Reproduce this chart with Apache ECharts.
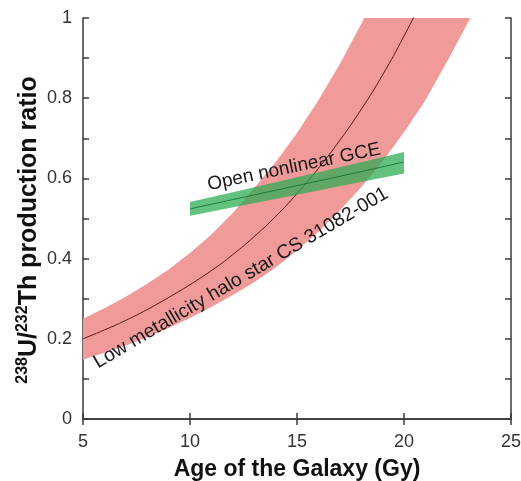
<!DOCTYPE html>
<html>
<head>
<meta charset="utf-8">
<script src="https://cdn.jsdelivr.net/npm/echarts@6/dist/echarts.min.js"></script>
<style>
html,body{margin:0;padding:0;background:#fff;}
#chart{width:521px;height:481px;}
</style>
</head>
<body>
<div id="chart"></div>
<script>
// ---- data ----
const redCenterAge = [5,6,7,8,9,10,11,12,13,14,15,16,17,18,19,20,21];
const redCenter    = [0.200,0.222,0.246,0.273,0.303,0.335,0.370,0.410,0.455,0.505,0.562,0.625,0.695,0.772,0.858,0.955,1.06];
const redUpperAge  = [5,6,7,8,9,10,11,12,13,14,15,16,17,18,18.5];
const redUpper     = [0.250,0.276,0.305,0.337,0.373,0.414,0.460,0.514,0.576,0.640,0.713,0.795,0.885,0.985,1.04];
const redLowerAge  = [5,6,7,8,9,10,11,12,13,14,15,16,17,18,19,20,21,22,23,23.3];
const redLower     = [0.148,0.165,0.183,0.204,0.227,0.252,0.279,0.309,0.341,0.378,0.420,0.467,0.520,0.578,0.642,0.715,0.795,0.890,0.990,1.02];
const greenAge     = [10,12.5,15,17.5,20];
const greenCenter  = [0.524,0.553,0.582,0.611,0.641];
const greenUpper   = [0.541,0.572,0.603,0.634,0.666];
const greenLower   = [0.507,0.533,0.559,0.586,0.612];
const xTicks = [5,10,15,20,25];
const yTicks = [0,0.2,0.4,0.6,0.8,1];
const labelOpen = 'Open nonlinear GCE';
const labelHalo = 'Low metallicity halo star CS 31082-001';

const FONT = '"Liberation Sans", Arial, Helvetica, sans-serif';
const zip = (a, b) => a.map((v, i) => [v, b[i]]);

function bandSeries(ages, up, lowAges, low, fill, z) {
  return {
    type: 'custom',
    xAxisIndex: 0, yAxisIndex: 0, z: z,
    data: [[ages[0], up[0]]],
    silent: true,
    renderItem: function (params, api) {
      const pts = [];
      ages.forEach((a, i) => pts.push(api.coord([a, up[i]])));
      for (let i = lowAges.length - 1; i >= 0; i--) pts.push(api.coord([lowAges[i], low[i]]));
      const cs = params.coordSys;
      return {
        type: 'group',
        clipPath: { type: 'rect', shape: { x: cs.x, y: cs.y, width: cs.width, height: cs.height } },
        children: [{ type: 'polygon', shape: { points: pts }, style: { fill: fill, stroke: null } }]
      };
    }
  };
}

const chart = echarts.init(document.getElementById('chart'), null, { renderer: 'canvas' });
const axisLineStyle = { color: '#3a3a3a', width: 1.5 };
const option = {
  animation: false,
  backgroundColor: '#fff',
  grid: { left: 83, right: 10, top: 18, bottom: 62, containLabel: false, outerBoundsMode: 'none' },
  xAxis: [{
    type: 'value', min: xTicks[0], max: xTicks[xTicks.length - 1], interval: 5,
    position: 'bottom',
    axisLine: { show: true, lineStyle: axisLineStyle },
    axisTick: { show: true, inside: true, length: 6, lineStyle: axisLineStyle },
    axisLabel: { color: '#333', fontSize: 18, fontFamily: FONT, margin: 14 },
    splitLine: { show: false },
    name: 'Age of the Galaxy (Gy)', nameLocation: 'middle', nameGap: 39,
    nameTextStyle: { color: '#111', fontSize: 23, fontWeight: 'bold', fontFamily: FONT }
  }, {
    type: 'value', min: 5, max: 25, interval: 5, position: 'top',
    axisLine: { show: true, lineStyle: axisLineStyle },
    axisTick: { show: true, inside: true, length: 6, lineStyle: axisLineStyle },
    axisLabel: { show: false }, splitLine: { show: false }
  }],
  yAxis: [{
    type: 'value', min: yTicks[0], max: yTicks[yTicks.length - 1], interval: 0.1,
    position: 'left',
    axisLine: { show: true, lineStyle: axisLineStyle },
    axisTick: { show: true, inside: true, length: 6, lineStyle: axisLineStyle },
    axisLabel: {
      color: '#333', fontSize: 18, fontFamily: FONT, margin: 11,
      formatter: v => {
        const r = Math.round(v * 10) / 10;
        return yTicks.some(t => Math.abs(t - r) < 1e-6) ? String(r) : '';
      }
    },
    splitLine: { show: false }
  }, {
    type: 'value', min: 0, max: 1, interval: 0.1, position: 'right',
    axisLine: { show: true, lineStyle: axisLineStyle },
    axisTick: { show: true, inside: true, length: 6, lineStyle: axisLineStyle },
    axisLabel: { show: false }, splitLine: { show: false }
  }],
  series: [
    bandSeries(redUpperAge, redUpper, redLowerAge, redLower, '#f09b9a', 1),
    {
      type: 'line', data: zip(redCenterAge, redCenter), smooth: true, showSymbol: false, z: 2,
      lineStyle: { color: '#5a1818', width: 1 }, clip: true, silent: true
    },
    bandSeries(greenAge, greenUpper, greenAge, greenLower, 'rgba(40,170,80,0.72)', 3),
    {
      type: 'line', data: zip(greenAge, greenCenter), smooth: true, showSymbol: false, z: 4,
      lineStyle: { color: '#1c7a3a', width: 1 }, clip: true, silent: true
    }
  ],
  graphic: [
    {
      type: 'text', x: 28, y: 230, rotation: Math.PI / 2, z: 100,
      style: {
        text: '{s|238}{b|U/}{s|232}{b|Th production ratio}',
        align: 'center', verticalAlign: 'middle',
        rich: {
          b: { fontSize: 25, fontWeight: 'bold', fontFamily: FONT, fill: '#111', lineHeight: 27, verticalAlign: 'bottom' },
          s: { fontSize: 16, fontWeight: 'bold', fontFamily: FONT, fill: '#111', lineHeight: 27, verticalAlign: 'top' }
        }
      }
    },
    {
      type: 'text', x: 294, y: 167, rotation: 11.8 * Math.PI / 180, z: 100,
      style: { text: labelOpen, fontSize: 19, fontFamily: FONT, fill: '#1a1a1a', align: 'center', verticalAlign: 'middle' }
    },
    {
      type: 'text', x: 241, y: 278, rotation: 30.5 * Math.PI / 180, z: 100,
      style: { text: labelHalo, fontSize: 19.5, fontFamily: FONT, fill: '#1a1a1a', align: 'center', verticalAlign: 'middle' }
    }
  ]
};
chart.setOption(option);
</script>
</body>
</html>
